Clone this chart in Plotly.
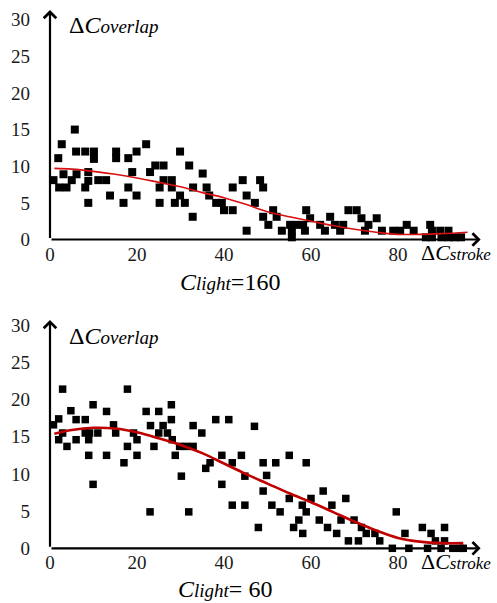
import plotly.graph_objects as go

# ---------- data ----------
top_x = [0.8, 1.9, 2.7, 2.1, 3.8, 3.1, 5.0, 6.1, 5.7, 6.0, 8.1, 10.1, 10.1, 8.8, 8.8, 8.1, 8.8, 11.1, 12.9, 13.8,
         15.2, 15.2, 16.9, 18.0, 18.0, 18.9, 19.9, 19.9, 22.1, 23.0, 24.2, 26.1, 25.2, 25.2, 26.1, 28.0, 28.0, 28.7,
         29.9, 29.9, 31.0, 32.0, 32.8, 32.9, 35.1, 36.0, 36.6, 38.2, 39.5, 40.0, 42.0, 42.0, 44.3, 45.2, 45.2, 48.3,
         49.0, 47.1, 49.0, 51.3, 50.2, 52.1, 53.3, 55.2, 55.6, 55.6, 56.6, 58.2, 58.9, 58.6, 59.8, 62.1, 63.2, 64.4,
         65.5, 66.7, 67.4, 68.6, 70.5, 71.6, 72.4, 73.2, 75.1, 76.3, 78.9, 80.5, 82.0, 83.6, 87.4, 87.8, 87.8, 89.7,
         91.6, 91.6, 86.4, 90.0, 93.0, 94.5]
top_y = [8.1, 11.1, 13.0, 7.1, 7.1, 8.9, 8.1, 8.9, 15.0, 12.0, 12.0, 12.0, 11.0, 9.2, 8.0, 7.1, 5.0, 8.1, 8.1, 6.0,
         12.0, 11.1, 5.0, 11.1, 7.1, 9.2, 12.0, 6.0, 13.0, 9.2, 10.1, 10.1, 7.1, 5.0, 8.1, 8.1, 7.1, 5.0,
         12.0, 6.0, 5.0, 10.1, 3.1, 7.1, 9.0, 7.1, 6.0, 5.0, 5.0, 4.0, 4.0, 7.1, 8.1, 6.0, 1.2, 8.1,
         7.1, 5.0, 3.1, 4.0, 2.0, 3.1, 1.2, 2.0, 1.2, 0.3, 2.0, 2.0, 4.0, 1.2, 2.9, 2.0, 1.2, 3.1,
         2.0, 1.2, 2.0, 4.0, 4.0, 2.9, 1.2, 2.0, 2.9, 1.2, 1.2, 1.2, 2.0, 1.2, 2.0, 1.2, 0.3, 1.2,
         1.2, 0.3, 0.3, 0.3, 0.3, 0.3]
top_fit_x = [1, 5, 10, 15, 20, 25, 30, 35, 40, 45, 50, 55, 60, 65, 70, 75, 80, 85, 90, 96]
top_fit_y = [9.7, 9.6, 9.3, 8.9, 8.4, 7.8, 7.2, 6.4, 5.7, 4.8, 3.8, 3.1, 2.5, 1.9, 1.4, 1.0, 0.7, 0.7, 0.8, 1.0]

bot_x = [0.8, 2.0, 2.9, 2.9, 2.0, 3.9, 4.8, 6.0, 6.0, 8.1, 8.1, 9.1, 9.9, 8.9, 11.0, 13.0, 14.6, 15.1, 17.8, 17.8,
         19.2, 20.0, 22.1, 23.1, 23.9, 25.0, 25.0, 26.0, 27.0, 27.9, 27.9, 28.1, 29.8, 31.3, 32.9, 32.9, 34.9, 38.1,
         41.1, 47.0, 8.9, 9.9, 13.0, 17.0, 20.0, 23.0, 28.8, 30.2, 31.9, 35.8, 36.8, 39.5, 39.5, 41.9, 41.9, 44.0,
         44.8, 44.8, 47.9, 49.0, 49.8, 49.0, 51.0, 51.9, 52.9, 55.0, 55.0, 56.0, 57.2, 58.0, 58.1, 58.9, 58.9, 60.0,
         61.9, 62.8, 63.8, 64.8, 65.9, 66.9, 68.0, 68.6, 69.9, 70.9, 71.6, 72.7, 74.7, 75.8, 78.7, 79.6, 81.6, 82.5,
         85.6, 86.8, 87.6, 88.6, 90.7, 90.7, 89.9, 92.6, 94.2, 95.0]
bot_y = [16.6, 17.4, 21.4, 15.5, 14.6, 13.7, 18.5, 17.3, 14.6, 17.3, 15.5, 15.5, 19.3, 14.6, 15.5, 18.4, 16.6, 15.5, 21.4, 13.7,
         15.5, 14.6, 18.4, 16.5, 13.7, 18.4, 15.5, 16.5, 15.5, 19.3, 17.3, 14.6, 13.7, 13.7, 16.5, 13.7, 15.5, 17.3,
         17.3, 16.4, 12.5, 8.6, 12.5, 11.5, 12.5, 4.9, 12.5, 9.7, 4.9, 10.75, 11.5, 12.5, 8.6, 11.5, 5.8, 12.5,
         9.7, 5.8, 2.8, 11.5, 9.8, 7.7, 5.8, 11.5, 4.9, 12.5, 6.7, 2.8, 3.8, 5.8, 2.0, 11.5, 4.9, 6.7,
         3.8, 7.7, 2.8, 5.8, 2.0, 3.8, 6.7, 1.0, 3.8, 1.0, 2.8, 2.0, 2.0, 1.0, 0.0, 4.9, 2.0, 0.0,
         2.8, 0.0, 2.0, 1.0, 2.8, 1.0, 0.0, 0.0, 0.0, 0.0]
bot_fit_x = [1, 5, 10, 15, 20, 25, 30, 35, 40, 45, 50, 55, 60, 65, 70, 75, 80, 85, 90, 95]
bot_fit_y = [15.4, 15.9, 16.2, 16.1, 15.6, 14.8, 13.9, 12.8, 11.4, 10.0, 8.7, 7.4, 6.2, 4.9, 3.6, 2.4, 1.4, 0.9, 0.7, 0.7]

x_ticks = [0, 20, 40, 60, 80]
y_ticks = [0, 5, 10, 15, 20, 25, 30]
top_caption = "<i>C</i><i><span style='font-size:19px'>light</span></i>=160"
bot_caption = "<i>C</i><i><span style='font-size:19px'>light</span></i>= 60"

FONT = "Liberation Serif, Times New Roman, serif"
fig = go.Figure()

fig.add_trace(go.Scatter(x=top_x, y=top_y, mode="markers", xaxis="x", yaxis="y",
                         marker=dict(symbol="square", size=8, color="black"), cliponaxis=False,
                         showlegend=False))
fig.add_trace(go.Scatter(x=top_fit_x, y=top_fit_y, mode="lines", xaxis="x", yaxis="y",
                         line=dict(color="#d81010", width=1.6, shape="spline"), showlegend=False))
fig.add_trace(go.Scatter(x=bot_x, y=bot_y, mode="markers", xaxis="x2", yaxis="y2",
                         marker=dict(symbol="square", size=7.5, color="black"), cliponaxis=False,
                         showlegend=False))
fig.add_trace(go.Scatter(x=bot_fit_x, y=bot_fit_y, mode="lines", xaxis="x2", yaxis="y2",
                         line=dict(color="#c00000", width=2.6, shape="spline"), showlegend=False))

tickfont = dict(family=FONT, size=19, color="#1a1a1a")
common_x = dict(range=[0, 100], tickvals=x_ticks, showgrid=False, zeroline=False, showline=False,
                ticks="", tickfont=tickfont, ticklabelstandoff=1, automargin=False)
common_y = dict(tickvals=y_ticks, showgrid=False, zeroline=False, showline=False,
                ticks="", tickfont=tickfont, ticklabelstandoff=19, automargin=False)

fig.update_layout(
    width=497, height=603,
    margin=dict(l=50, r=12, t=0, b=0, autoexpand=False),
    paper_bgcolor="white", plot_bgcolor="white",
    xaxis=dict(domain=[0, 1], anchor="y", **common_x),
    yaxis=dict(domain=[0.6028, 0.9857], range=[0, 31.5], anchor="x", **common_y),
    xaxis2=dict(domain=[0, 1], anchor="y2", **common_x),
    yaxis2=dict(domain=[0.0907, 0.4731], range=[0, 31], anchor="x2", **common_y),
)

ann = []
specs = [("x", "y", 31.3, top_caption, 0.582, 0.532, "middle", 0.4138),
         ("x2", "y2", 30.7, bot_caption, 0.068, 0.0, "bottom", 0.402)]
for xr, yr, ytop, cap, ys, yc, yanc, xc in specs:
    # axis arrows
    ann.append(dict(xref=xr, yref=yr, axref=xr, ayref=yr, x=99, y=0, ax=0, ay=0, text="",
                    showarrow=True, arrowhead=4, arrowsize=1.1, arrowwidth=2.2, arrowcolor="black",
                    standoff=0, startstandoff=0))
    ann.append(dict(xref=xr, yref=yr, axref=xr, ayref=yr, x=0, y=ytop, ax=0, ay=0, text="",
                    showarrow=True, arrowhead=4, arrowsize=1.1, arrowwidth=2.2, arrowcolor="black",
                    standoff=0, startstandoff=0))
    # axis titles
    ann.append(dict(xref=xr, yref=yr, x=3.9, y=ytop - 2.1, xanchor="left", yanchor="middle",
                    showarrow=False,
                    text="Δ<i>C</i><i><span style='font-size:19px'>overlap</span></i>",
                    font=dict(family=FONT, size=24, color="black")))
    ann.append(dict(xref="paper", yref="paper", x=0.849, y=ys, xanchor="left", yanchor="middle",
                    showarrow=False,
                    text="Δ<i>C</i><i><span style='font-size:17px'>stroke</span></i>",
                    font=dict(family=FONT, size=22, color="black")))
    ann.append(dict(xref="paper", yref="paper", x=xc, y=yc, xanchor="center", yanchor=yanc,
                    showarrow=False, text=cap, borderpad=0,
                    font=dict(family=FONT, size=24, color="black")))
fig.update_layout(annotations=ann)

fig.write_html("out.html", config={"displayModeBar": False},
               post_script="document.body.style.margin='0px';document.body.style.overflow='hidden';")
